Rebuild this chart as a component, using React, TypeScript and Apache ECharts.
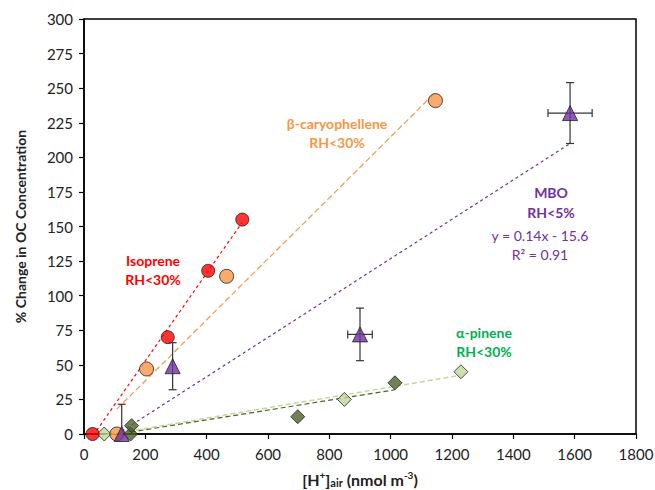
import React, { useEffect, useRef } from "react";
import * as echarts from "echarts";

// Isoprene RH<30%
const isoX = [28, 273, 405, 516];
const isoY = [0, 70, 118, 155];
const isoTrend = [[30, -1], [516, 153]];

// β-caryophellene RH<30%
const caryX = [107, 204, 465, 1146];
const caryY = [0, 47, 114, 241];
const caryTrend = [[107, 18], [1146, 247]];

// MBO RH<5%
const mboX = [123, 289, 900, 1585];
const mboY = [0, 49, 72, 232];
const mboXErr = [0, 0, 40, 72];
const mboYErr = [21.5, 17, 19, 22];
const mboTrend = [[123, 2], [1585, 210]];

// α-pinene RH<30% (two sets)
const pinLightX = [66, 849, 1229];
const pinLightY = [0, 25, 45];
const pinLightTrend = [[66, -1], [1229, 42.5]];
const pinDarkX = [152, 155, 697, 1014];
const pinDarkY = [0, 6, 12.5, 37];
const pinDarkTrend = [[152, 1.4], [1014, 32]];

const xTicks = [0, 200, 400, 600, 800, 1000, 1200, 1400, 1600, 1800];
const yTicks = [0, 25, 50, 75, 100, 125, 150, 175, 200, 225, 250, 275, 300];

const FONT = 'Lato, "Noto Sans", "DejaVu Sans", sans-serif';

const pts = (xs: number[], ys: number[]) => xs.map((x, i) => [x, ys[i]]);

export default function App() {
  const ref = useRef<HTMLDivElement>(null);
  useEffect(() => {
    document.body.style.margin = "0";
    const chart = echarts.init(ref.current!, null, { renderer: "svg" });
    const trend = (data: number[][], color: string, dash: number[], width = 1.2) => ({
      type: "line",
      data,
      symbol: "none",
      silent: true,
      clip: true,
      z: 1,
      lineStyle: { color, width, type: dash },
    });
    const scatter = (data: number[][], color: string, symbol: string, size: number, z: number) => ({
      type: "scatter",
      data,
      symbol,
      symbolSize: size,
      z,
      clip: false,
      itemStyle: { color, borderColor: "#222", borderWidth: 1 },
    });
    const option: any = {
      animation: false,
      textStyle: { fontFamily: FONT },
      grid: {
        left: 84,
        right: 19,
        top: 19,
        bottom: 56,
        containLabel: false,
        outerBoundsMode: "none",
        show: true,
        borderColor: "#000",
        borderWidth: 1.5,
        backgroundColor: "transparent",
      },
      xAxis: {
        type: "value",
        min: xTicks[0],
        max: xTicks[xTicks.length - 1],
        interval: 200,
        splitLine: { show: false },
        axisLine: { lineStyle: { color: "#000", width: 1.5 } },
        axisTick: { show: true, length: 5, lineStyle: { color: "#000", width: 1.2 } },
        axisLabel: { color: "#222", fontSize: 15, margin: 12, fontFamily: FONT, formatter: (v: number) => String(v) },
        name: "{b|[H}{sup|+}{b|]}{sub|air}{b| (nmol m}{sup|-3}{b|)}",
        nameLocation: "middle",
        nameGap: 36,
        nameTextStyle: {
          rich: {
            b: { fontSize: 16, fontWeight: "bold", color: "#222", fontFamily: FONT, lineHeight: 18, verticalAlign: "middle" },
            sup: { fontSize: 10, fontWeight: "bold", color: "#222", fontFamily: FONT, lineHeight: 18, verticalAlign: "top" },
            sub: { fontSize: 11, fontWeight: "bold", color: "#222", fontFamily: FONT, lineHeight: 18, verticalAlign: "bottom" },
          },
        },
      },
      yAxis: {
        type: "value",
        min: yTicks[0],
        max: yTicks[yTicks.length - 1],
        interval: 25,
        splitLine: { show: false },
        axisLine: { show: true, lineStyle: { color: "#000", width: 1.5 } },
        axisTick: { show: true, length: 5, lineStyle: { color: "#000", width: 1.2 } },
        axisLabel: { color: "#222", fontSize: 15, margin: 11, fontFamily: FONT, formatter: (v: number) => String(v) },
        name: "% Change in OC Concentration",
        nameLocation: "middle",
        nameGap: 57,
        nameTextStyle: { fontSize: 14, fontWeight: "bold", color: "#222", fontFamily: FONT },
      },
      series: [
        trend(isoTrend, "#FF0000", [3, 3]),
        trend(caryTrend, "#F79646", [6, 3]),
        trend(mboTrend, "#7030A0", [3, 3]),
        trend(pinLightTrend, "#C3D69B", [5, 3], 1.5),
        trend(pinDarkTrend, "#4F6228", [5, 3], 1.2),
        {
          type: "custom",
          z: 2,
          clip: true,
          silent: true,
          data: mboX.map((x, i) => [x, mboY[i], mboXErr[i], mboYErr[i]]),
          encode: { x: 0, y: 1 },
          renderItem: (params: any, api: any) => {
            const x = api.value(0);
            const y = api.value(1);
            const xe = api.value(2);
            const ye = api.value(3);
            const c = api.coord([x, y]);
            const top = api.coord([x, y + ye]);
            const bot = api.coord([x, y - ye]);
            const lft = api.coord([x - xe, y]);
            const rgt = api.coord([x + xe, y]);
            const cap = 4;
            const st = { stroke: "#333", lineWidth: 1.2 };
            const children: any[] = [];
            if (ye > 0) {
              children.push({ type: "line", shape: { x1: c[0], y1: top[1], x2: c[0], y2: bot[1] }, style: st });
              children.push({ type: "line", shape: { x1: c[0] - cap, y1: top[1], x2: c[0] + cap, y2: top[1] }, style: st });
              children.push({ type: "line", shape: { x1: c[0] - cap, y1: bot[1], x2: c[0] + cap, y2: bot[1] }, style: st });
            }
            if (xe > 0) {
              children.push({ type: "line", shape: { x1: lft[0], y1: c[1], x2: rgt[0], y2: c[1] }, style: st });
              children.push({ type: "line", shape: { x1: lft[0], y1: c[1] - cap, x2: lft[0], y2: c[1] + cap }, style: st });
              children.push({ type: "line", shape: { x1: rgt[0], y1: c[1] - cap, x2: rgt[0], y2: c[1] + cap }, style: st });
            }
            return { type: "group", children };
          },
        },
        scatter(pts(pinLightX, pinLightY), "#C3D69B", "diamond", 14, 3),
        scatter(pts(caryX, caryY), "#F79646", "circle", 14, 4),
        scatter(pts(isoX, isoY), "#FF0000", "circle", 13, 4),
        scatter(pts(mboX, mboY), "#7030A0", "triangle", 15, 5),
        scatter(pts(pinDarkX, pinDarkY), "#4F6228", "diamond", 14, 6),
      ],
      graphic: [
        { type: "text", x: 153, y: 270, style: { text: "Isoprene\nRH<30%", fill: "#FF0000", font: `bold 14px ${FONT}`, align: "center", verticalAlign: "middle", lineHeight: 19 } },
        { type: "text", x: 337, y: 133, style: { text: "β-caryophellene\nRH<30%", fill: "#F79646", font: `bold 14px ${FONT}`, align: "center", verticalAlign: "middle", lineHeight: 19 } },
        { type: "text", x: 551, y: 202, style: { text: "MBO\nRH<5%", fill: "#7030A0", font: `bold 14px ${FONT}`, align: "center", verticalAlign: "middle", lineHeight: 20 } },
        { type: "text", x: 540, y: 245, style: { text: "y = 0.14x - 15.6\nR² = 0.91", fill: "#7030A0", font: `14px ${FONT}`, align: "center", verticalAlign: "middle", lineHeight: 19 } },
        { type: "text", x: 484, y: 342, style: { text: "α-pinene\nRH<30%", fill: "#00B050", font: `bold 14px ${FONT}`, align: "center", verticalAlign: "middle", lineHeight: 19 } },
      ],
    };
    chart.setOption(option);
    return () => chart.dispose();
  }, []);
  return <div ref={ref} style={{ position: "absolute", left: 0, top: 0, width: 655, height: 490 }} />;
}
